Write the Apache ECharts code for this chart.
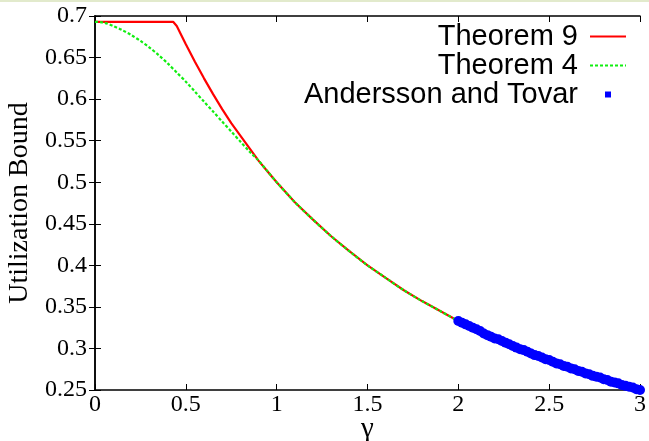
<!DOCTYPE html>
<html>
<head>
<meta charset="utf-8">
<script src="https://cdn.jsdelivr.net/npm/echarts@6/dist/echarts.min.js"></script>
<style>
html,body{margin:0;padding:0;background:#fff;}
#c{width:649px;height:441px;}
</style>
</head>
<body>
<div id="c"></div>
<script>
// ---- data ----
const seriesNames = ['Theorem 9', 'Theorem 4', 'Andersson and Tovar'];

const gammaT9 = [0, 0.1, 0.2, 0.3, 0.4, 0.43, 0.45, 0.5, 0.55, 0.6, 0.65, 0.7, 0.75, 0.8, 0.85, 0.9, 0.95, 1.0,
  1.1, 1.2, 1.3, 1.4, 1.5, 1.6, 1.7, 1.8, 1.9, 2.0];
const theorem9 = [0.693, 0.693, 0.693, 0.693, 0.693, 0.693, 0.688, 0.666, 0.645, 0.625, 0.606, 0.588, 0.571, 0.556, 0.541, 0.526, 0.513, 0.500,
  0.476, 0.455, 0.435, 0.417, 0.400, 0.385, 0.370, 0.357, 0.345, 0.333];

const gammaT4 = [0, 0.05, 0.1, 0.15, 0.2, 0.25, 0.3, 0.35, 0.4, 0.45, 0.5, 0.55, 0.6, 0.65, 0.7, 0.75, 0.8, 0.85, 0.9, 0.95, 1.0,
  1.1, 1.2, 1.3, 1.4, 1.5, 1.6, 1.7, 1.8, 1.9, 2.0];
const theorem4 = [0.693, 0.692, 0.688, 0.683, 0.677, 0.670, 0.662, 0.653, 0.643, 0.632, 0.621, 0.609, 0.597, 0.585, 0.573, 0.561, 0.549, 0.537, 0.526, 0.513, 0.500,
  0.476, 0.455, 0.435, 0.417, 0.400, 0.385, 0.370, 0.357, 0.345, 0.333];

const gammaAT = [2.00, 2.02, 2.04, 2.06, 2.08, 2.10, 2.12, 2.14, 2.16, 2.18, 2.20, 2.22, 2.24, 2.26, 2.28, 2.30,
  2.32, 2.34, 2.36, 2.38, 2.40, 2.42, 2.44, 2.46, 2.48, 2.50, 2.52, 2.54, 2.56, 2.58, 2.60, 2.62, 2.64, 2.66,
  2.68, 2.70, 2.72, 2.74, 2.76, 2.78, 2.80, 2.82, 2.84, 2.86, 2.88, 2.90, 2.92, 2.94, 2.96, 2.98, 3.00];
const anderssonTovar = [0.333, 0.331, 0.329, 0.327, 0.325, 0.323, 0.321, 0.318, 0.316, 0.314, 0.312, 0.311, 0.309, 0.307, 0.305, 0.303,
  0.301, 0.299, 0.298, 0.296, 0.294, 0.292, 0.291, 0.289, 0.287, 0.286, 0.284, 0.282, 0.281, 0.279, 0.278, 0.276, 0.275, 0.273,
  0.272, 0.270, 0.269, 0.267, 0.266, 0.265, 0.263, 0.262, 0.260, 0.259, 0.258, 0.256, 0.255, 0.254, 0.253, 0.251, 0.250];

const xTicks = {min: 0, max: 3, interval: 0.5};
const yTicks = {min: 0.25, max: 0.7, interval: 0.05};
const xTitle = 'γ';
const yTitle = 'Utilization Bound';

// ---- chart ----
const zip = (xs, ys) => xs.map((x, i) => [x, ys[i]]);
const chart = echarts.init(document.getElementById('c'), null, {renderer: 'canvas'});

const serif = 'Liberation Serif, Times New Roman, serif';
const sans = 'Liberation Sans, Arial, sans-serif';

const baseAxisLine = {show: true, lineStyle: {color: '#000', width: 1.5}};
const tickIn = {show: true, inside: true, length: 6, lineStyle: {color: '#000', width: 1}};

chart.setOption({
  animation: false,
  backgroundColor: '#fff',
  graphic: [{type: 'rect', left: 0, top: 0, shape: {width: 649, height: 2}, style: {fill: '#e2eacc'}, silent: true}],
  grid: {left: 95, right: 9, top: 16, bottom: 51, containLabel: false, outerBoundsMode: 'none'},
  legend: {
    orient: 'vertical',
    align: 'right',
    right: 17,
    top: 17,
    itemWidth: 36,
    itemHeight: 14,
    itemGap: 0,
    textStyle: {fontFamily: sans, fontSize: 29, color: '#000', lineHeight: 28.5, padding: [0, 7, 0, 0]},
    data: [
      {name: seriesNames[0], itemStyle: {opacity: 0}},
      {name: seriesNames[1], itemStyle: {opacity: 0}},
      {name: seriesNames[2], icon: 'path://M0,0M36,14M15,4h6v6h-6z', itemStyle: {color: '#0000ff', opacity: 1}}
    ]
  },
  xAxis: [{
    type: 'value', min: xTicks.min, max: xTicks.max, interval: xTicks.interval,
    position: 'bottom',
    axisLine: baseAxisLine, axisTick: tickIn, splitLine: {show: false},
    axisLabel: {fontFamily: serif, fontSize: 24, color: '#000', margin: 3,
      formatter: v => String(+v.toFixed(2))},
    name: xTitle, nameLocation: 'middle', nameGap: 25, nameMoveOverlap: false,
    nameTextStyle: {fontFamily: serif, fontSize: 29, color: '#000'}
  }, {
    type: 'value', min: xTicks.min, max: xTicks.max, interval: xTicks.interval,
    position: 'top',
    axisLine: baseAxisLine, axisTick: tickIn, splitLine: {show: false},
    axisLabel: {show: false}
  }],
  yAxis: [{
    type: 'value', min: yTicks.min, max: yTicks.max, interval: yTicks.interval,
    position: 'left',
    axisLine: baseAxisLine, axisTick: tickIn, splitLine: {show: false},
    axisLabel: {fontFamily: serif, fontSize: 24, color: '#000', margin: 8,
      formatter: v => String(+v.toFixed(2))},
    name: yTitle, nameLocation: 'middle', nameGap: 57,
    nameTextStyle: {fontFamily: serif, fontSize: 28, color: '#000'}
  }, {
    type: 'value', min: yTicks.min, max: yTicks.max, interval: yTicks.interval,
    position: 'right',
    axisLine: baseAxisLine, axisTick: tickIn, splitLine: {show: false},
    axisLabel: {show: false}
  }],
  series: [{
    name: seriesNames[0], type: 'line', symbol: 'none', data: zip(gammaT9, theorem9),
    lineStyle: {color: '#ff0000', width: 2.2}, itemStyle: {color: '#ff0000'}, z: 3
  }, {
    name: seriesNames[1], type: 'line', symbol: 'none', smooth: 0.3, data: zip(gammaT4, theorem4),
    lineStyle: {color: '#11ee11', width: 2.2, type: [3, 2]}, itemStyle: {color: '#11ee11'}, z: 4
  }, {
    name: seriesNames[2], type: 'scatter', symbol: 'circle', symbolSize: 10, clip: false,
    data: zip(gammaAT, anderssonTovar),
    itemStyle: {color: '#0000ff', opacity: 1}, z: 5
  }]
});
</script>
</body>
</html>
